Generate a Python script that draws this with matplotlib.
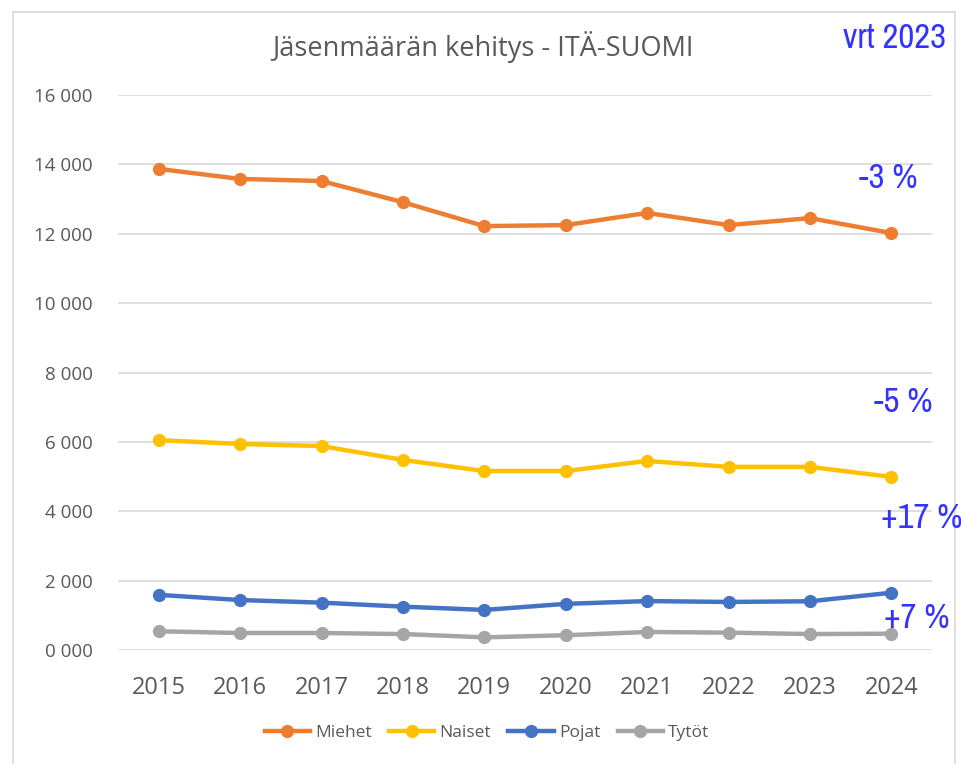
import matplotlib.pyplot as plt
from matplotlib import font_manager
from matplotlib.lines import Line2D
from matplotlib.ticker import FuncFormatter

# data
years = ["2015", "2016", "2017", "2018", "2019", "2020", "2021", "2022", "2023", "2024"]
miehet = [13870, 13580, 13520, 12910, 12220, 12250, 12600, 12250, 12450, 12020]
naiset = [6050, 5940, 5880, 5480, 5160, 5160, 5450, 5280, 5280, 4990]
pojat = [1590, 1440, 1365, 1250, 1155, 1330, 1410, 1385, 1405, 1650]
tytot = [540, 490, 490, 460, 365, 425, 520, 500, 460, 470]

series_names = ["Miehet", "Naiset", "Pojat", "Tytöt"]
colors = ["#ED7D31", "#FFC000", "#4472C4", "#A5A5A5"]

notes = ["-3 %", "-5 %", "+17 %", "+7 %"]
note_pos = [(888, 178), (903, 402), (922, 518), (917, 618)]

# narrow font for the blue notes, if one is installed
narrow = None
for f in font_manager.fontManager.ttflist:
    if "Narrow" in f.name or "Condensed" in f.name:
        narrow = f.name
        break
if narrow:
    note_font = [narrow, "DejaVu Sans"]
    note_size = 25
else:
    note_font = ["Roboto", "DejaVu Sans"]
    note_size = 20

W, H = 962, 764
fig = plt.figure(figsize=(W / 100, H / 100), dpi=100)
fig.patch.set_facecolor("white")

# axes area in pixels: left 118, right 932, top 95, bottom 650
ax = fig.add_axes([118 / W, 1 - 650 / H, (932 - 118) / W, (650 - 95) / H])

x = list(range(len(years)))
for vals, name, c in zip([miehet, naiset, pojat, tytot], series_names, colors):
    ax.plot(x, vals, color=c, lw=3.2, marker="o", ms=8.5, label=name,
            solid_capstyle="round", zorder=3)

ax.set_xlim(-0.5, len(years) - 0.5)
ax.set_ylim(0, 16000)
ax.set_yticks(range(0, 16001, 2000))
ax.yaxis.set_major_formatter(FuncFormatter(lambda v, p: f"{int(v) // 1000} 000"))
ax.set_xticks(x)
ax.set_xticklabels(years)
ax.grid(axis="y", color="#D9D9D9", lw=1.2, zorder=0)
for s in ax.spines.values():
    s.set_visible(False)
ax.tick_params(axis="y", length=0, pad=18, labelsize=13.5, labelcolor="#595959")
ax.tick_params(axis="x", length=0, pad=19, labelsize=17, labelcolor="#595959")
for lab in ax.get_yticklabels() + ax.get_xticklabels():
    lab.set_family("Open Sans")

fig.text(483 / W, 1 - 47 / H, "Jäsenmäärän kehitys - ITÄ-SUOMI", ha="center", va="center",
         fontsize=19.5, color="#595959", family="Open Sans")

fig.text(895 / W, 1 - 38 / H, "vrt 2023", ha="center", va="center", fontsize=note_size,
         color="#3333FF", family=note_font)
for t, (px, py) in zip(notes, note_pos):
    fig.text(px / W, 1 - py / H, t, ha="center", va="center", fontsize=note_size,
             color="#3333FF", family=note_font)

handles = [Line2D([0], [0], color=c, lw=3.2, marker="o", ms=8.5) for c in colors]
leg = fig.legend(handles, series_names, loc="center", bbox_to_anchor=(487 / W, 1 - 733 / H),
                 ncol=4, frameon=False, fontsize=12.5, handlelength=2.6, columnspacing=1.0,
                 handletextpad=0.3)
for t in leg.get_texts():
    t.set_color("#595959")
    t.set_family("Open Sans")

# outer chart frame
frame_c = "#D9D9D9"
fig.add_artist(Line2D([13 / W, 13 / W], [0, 1 - 12 / H], color=frame_c, lw=1.2))
fig.add_artist(Line2D([13 / W, 955 / W], [1 - 12 / H, 1 - 12 / H], color=frame_c, lw=1.2))
fig.add_artist(Line2D([955 / W, 955 / W], [0, 1 - 12 / H], color=frame_c, lw=1.2))

fig.savefig("out.png", dpi=100)
